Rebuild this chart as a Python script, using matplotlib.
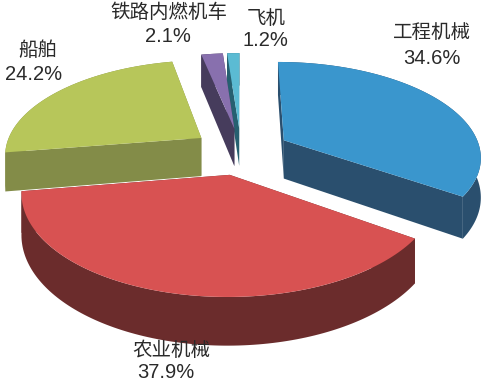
import numpy as np
import matplotlib
matplotlib.use("Agg")
import matplotlib.pyplot as plt

plt.rcParams['font.family'] = ['Liberation Sans', 'Noto Sans CJK SC']

# data
names = ["工程机械", "农业机械", "船舶", "铁路内燃机车", "飞机"]
shares = [34.6, 37.9, 24.2, 2.1, 1.2]
tops = ["#3A96CD", "#D85252", "#B7C65A", "#8870AE", "#5BBBD3"]
walls = ["#2A4F6E", "#6B2C2C", "#838C48", "#463C5C", "#266070"]

# pie geometry in pixels
cx, cy = 241, 151
rx, ry = 197, 94
persp = 0.16
depth = 39
explode = 0.25


def project(u, v):
    k = 1 / (1 + persp * v)
    x = cx + rx * u * k
    y = cy - ry * v * k
    return x, y, y + depth * k


fig = plt.figure(figsize=(4.87, 3.83), dpi=100)
ax = fig.add_axes([0, 0, 1, 1])
ax.set_xlim(0, 487)
ax.set_ylim(383, 0)
ax.axis("off")

edges = np.cumsum([0] + shares) / sum(shares) * 2 * np.pi
# far slices first so the near ones cover them
for i in [4, 3, 2, 0, 1]:
    mid = (edges[i] + edges[i + 1]) / 2
    du, dv = explode * np.sin(mid), explode * np.cos(mid)
    t = np.linspace(edges[i], edges[i + 1], 120)
    u = np.r_[du, du + np.sin(t)]
    v = np.r_[dv, dv + np.cos(t)]
    x, y, yb = project(u, v)
    # radial walls
    ax.fill([x[0], x[1], x[1], x[0]], [y[0], y[1], yb[1], yb[0]], color=walls[i], lw=0)
    ax.fill([x[0], x[-1], x[-1], x[0]], [y[0], y[-1], yb[-1], yb[0]], color=walls[i], lw=0)
    # outer wall
    ax.fill(np.r_[x[1:], x[1:][::-1]], np.r_[y[1:], yb[1:][::-1]], color=walls[i], lw=0)
    # top
    ax.fill(x, y, color=tops[i], lw=0)

label_pos = [(432, 33, 432, 59), (171, 351, 166, 372), (38, 51, 34, 74),
             (169, 13, 168, 37), (266, 19, 265, 40)]
for name, val, (xa, ya, xb, yb) in zip(names, shares, label_pos):
    ax.text(xa, ya, name, fontsize=14, ha="center", va="center", color="#2A2A2A")
    ax.text(xb, yb, f"{val}%", fontsize=14.5, ha="center", va="center", color="#2A2A2A")

fig.savefig("out.png", dpi=100)
